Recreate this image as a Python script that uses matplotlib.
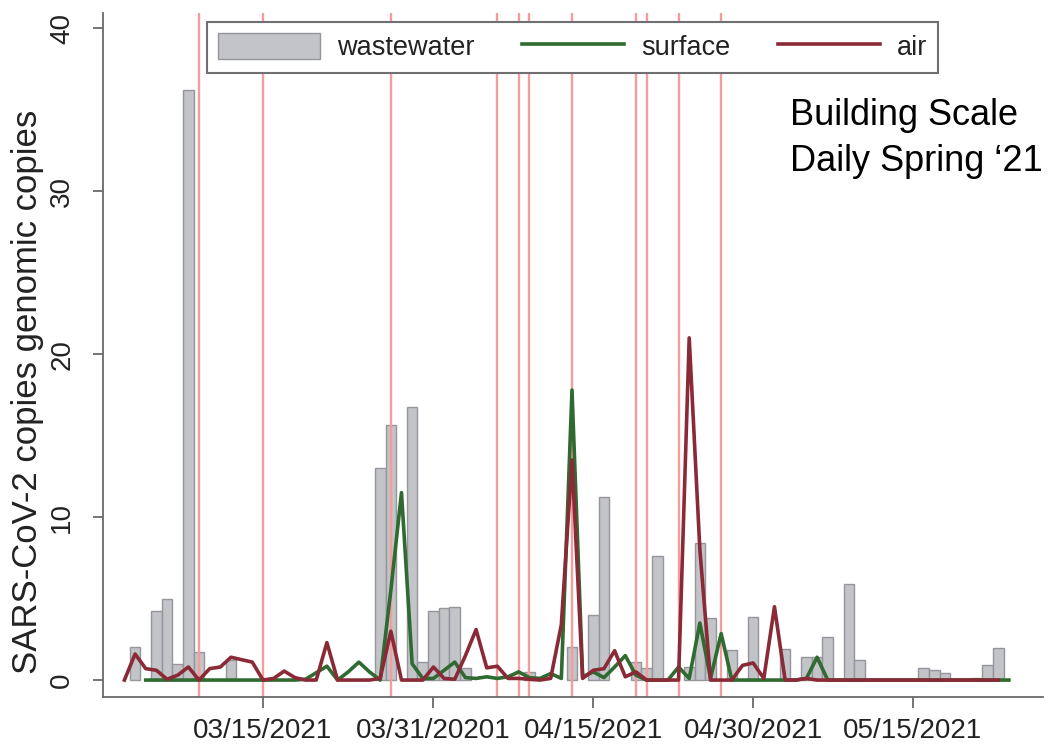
import matplotlib
matplotlib.use('Agg')
import matplotlib.pyplot as plt
import matplotlib.dates as mdates
import pandas as pd
from matplotlib.patches import Patch
from matplotlib.lines import Line2D

plt.rcParams['font.family'] = ['Liberation Sans', 'DejaVu Sans']

# ---------------- data ----------------
ww_dates = ['2021-03-03', '2021-03-05', '2021-03-06', '2021-03-07', '2021-03-08', '2021-03-09',
            '2021-03-12', '2021-03-26', '2021-03-27', '2021-03-29', '2021-03-30', '2021-03-31',
            '2021-04-01', '2021-04-02', '2021-04-03', '2021-04-09', '2021-04-13', '2021-04-15',
            '2021-04-16', '2021-04-19', '2021-04-20', '2021-04-21', '2021-04-24', '2021-04-25',
            '2021-04-26', '2021-04-28', '2021-04-30', '2021-05-03', '2021-05-05', '2021-05-06',
            '2021-05-07', '2021-05-09', '2021-05-10', '2021-05-16', '2021-05-17', '2021-05-18',
            '2021-05-21', '2021-05-22', '2021-05-23']
ww_values = [2.05, 4.25, 5.0, 1.0, 36.2, 1.7,
             1.25, 13.0, 15.65, 16.75, 1.1, 4.25,
             4.4, 4.5, 0.75, 0.5, 2.0, 4.0,
             11.25, 1.1, 0.75, 7.6, 0.8, 8.4,
             3.8, 1.85, 3.85, 1.9, 1.4, 1.4,
             2.65, 5.9, 1.25, 0.75, 0.6, 0.45,
             0.1, 0.9, 1.95]

surface_start = '2021-03-04'
surface_values = [0, 0, 0, 0, 0, 0, 0, 0, 0, 0, 0, 0, 0, 0, 0,        # 03/04-03/18
                  0.05, 0.45, 0.85, 0, 0.5, 1.1, 0.5, 0, 5.5, 11.5, 1.0, 0.1, 0.1,  # 03/19-03/31
                  0.6, 1.1, 0.15, 0.1, 0.2, 0.1, 0.2, 0.5, 0.15, 0.1,              # 04/01-04/10
                  0.4, 0.1, 17.8, 0.2, 0.5, 0.15, 0.8, 1.5, 0.3, 0,                # 04/11-04/20
                  0, 0, 0.8, 0.1, 3.5, 0.1, 2.85, 0, 0, 0,                         # 04/21-04/30
                  0, 0, 0, 0, 0.1, 1.4, 0, 0, 0, 0, 0, 0,                          # 05/01-05/12
                  0, 0, 0, 0, 0, 0, 0, 0, 0, 0, 0, 0]                              # 05/13-05/24

air_start = '2021-03-02'
air_values = [0, 1.6, 0.7, 0.6, 0.05, 0.3, 0.8, 0, 0.7, 0.8,                      # 03/02-03/11
              1.4, 1.25, 1.1, 0, 0.1, 0.55, 0.15, 0, 0, 2.3,                       # 03/12-03/21
              0, 0, 0, 0, 0.1, 3.0, 0, 0, 0, 0.8,                                  # 03/22-03/31
              0.1, 0.05, 1.5, 3.1, 0.75, 0.85, 0.1, 0.1, 0.05, 0,                  # 04/01-04/10
              0.1, 3.4, 13.5, 0.1, 0.6, 0.7, 1.8, 0.2, 0.5, 0,                     # 04/11-04/20
              0, 0, 0, 21.0, 8.0, 0, 0, 0, 0.9, 1.05,                              # 04/21-04/30
              0.1, 4.5, 0, 0, 0.1, 0, 0, 0, 0, 0, 0, 0,                            # 05/01-05/12
              0, 0, 0, 0, 0, 0, 0, 0, 0, 0, 0]                                     # 05/13-05/23

event_dates = ['2021-03-09', '2021-03-15', '2021-03-27', '2021-04-06', '2021-04-08', '2021-04-09',
               '2021-04-13', '2021-04-19', '2021-04-20', '2021-04-23', '2021-04-27']

tick_dates = ['2021-03-15', '2021-03-31', '2021-04-15', '2021-04-30', '2021-05-15']
tick_labels = ['03/15/2021', '03/31/20201', '04/15/2021', '04/30/2021', '05/15/2021']
y_ticks = [0, 10, 20, 30, 40]
y_label = 'SARS-CoV-2 copies genomic copies'
series_names = ['wastewater', 'surface', 'air']
note_lines = ['Building Scale', 'Daily Spring \u201821']

# ---------------- styling ----------------
W, H = 1051, 744
fig = plt.figure(figsize=(W / 100, H / 100), dpi=100)
ax = fig.add_axes([103 / W, 1 - 697 / H, (1043 - 103) / W, (697 - 13) / H])

bar_face = '#c3c4c8'
bar_edge = '#95969c'
green = '#2f6a31'
red = '#8a2a37'
vline_c = '#f59c9c'
axis_c = '#6a6a6a'
text_c = '#222222'
lw_data = 2.6

ww_x = mdates.date2num(pd.to_datetime(ww_dates))
ax.bar(ww_x, ww_values, width=1.0, color=bar_face, edgecolor=bar_edge, linewidth=1.0, zorder=1)

for d in event_dates:
    ax.axvline(mdates.date2num(pd.Timestamp(d)), color=vline_c, lw=1.7, zorder=2)

surf_x = mdates.date2num(pd.date_range(surface_start, periods=len(surface_values), freq='D'))
air_x = mdates.date2num(pd.date_range(air_start, periods=len(air_values), freq='D'))
ax.plot(surf_x, surface_values, color=green, lw=lw_data, zorder=3, solid_joinstyle='round')
ax.plot(air_x, air_values, color=red, lw=lw_data, zorder=4, solid_joinstyle='round')

ref = mdates.date2num(pd.Timestamp('2021-03-15'))
ax.set_xlim(ref - 15.01, ref + 73.2)
ax.set_ylim(-1.04, 40.94)

ax.set_xticks(mdates.date2num(pd.to_datetime(tick_dates)))
ax.set_xticklabels(tick_labels)
ax.set_yticks(y_ticks)
ax.set_yticklabels([str(v) for v in y_ticks], rotation=90, va='center')

for s in ['top', 'right']:
    ax.spines[s].set_visible(False)
for s in ['left', 'bottom']:
    ax.spines[s].set_color(axis_c)
    ax.spines[s].set_linewidth(1.3)
ax.tick_params(axis='x', length=8, width=1.3, color=axis_c, labelsize=20, labelcolor=text_c, pad=7)
ax.tick_params(axis='y', length=7, width=1.3, color=axis_c, labelsize=20, labelcolor=text_c, pad=13)

fig.text(28 / W, 1 - 392 / H, y_label, rotation=90, ha='center', va='center',
         fontsize=25, color=text_c)

handles = [Patch(facecolor=bar_face, edgecolor=bar_edge, linewidth=1.0),
           Line2D([], [], color=green, lw=lw_data),
           Line2D([], [], color=red, lw=lw_data)]
leg = ax.legend(handles, series_names, ncol=3, loc='upper left',
                bbox_to_anchor=(207 / W, 1 - 22 / H), bbox_transform=fig.transFigure,
                borderaxespad=0, fontsize=19.5, handlelength=3.77, handleheight=1.06,
                handletextpad=0.62, columnspacing=1.75, borderpad=0.42, frameon=True,
                fancybox=False)
leg.get_frame().set_edgecolor('#707070')
leg.get_frame().set_linewidth(1.5)
leg.get_frame().set_facecolor('white')
leg.get_frame().set_alpha(1)
leg.set_zorder(10)
for t in leg.get_texts():
    t.set_color(text_c)

fig.text(790 / W, 1 - 125 / H, note_lines[0], fontsize=26, color='black', ha='left', va='baseline')
fig.text(790 / W, 1 - 171 / H, note_lines[1], fontsize=26, color='black', ha='left', va='baseline')

fig.savefig('out.png', dpi=100)
